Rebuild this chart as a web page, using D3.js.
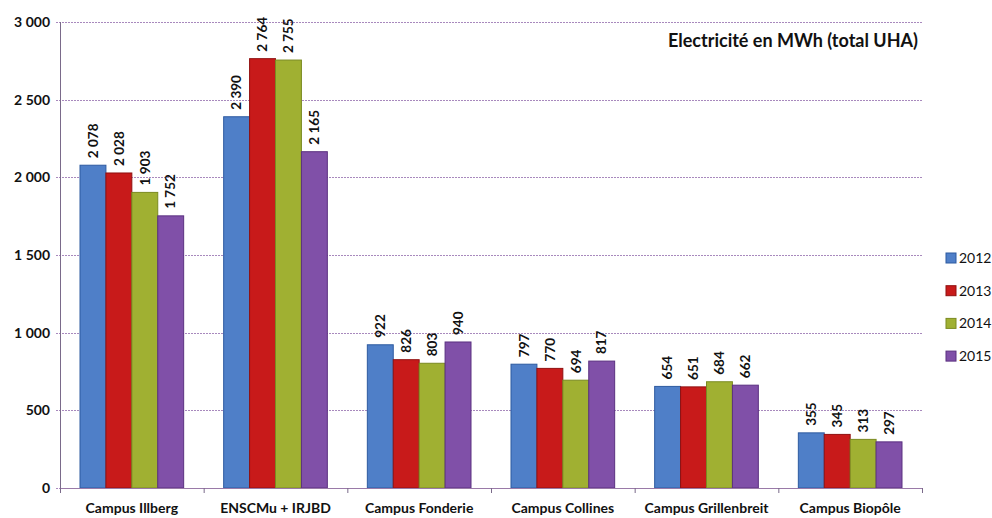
<!DOCTYPE html>
<html lang="fr">
<head>
    <meta charset="UTF-8">
    <title>Electricité en MWh (total UHA)</title>
    <style>
        body { margin: 0; background: #fff; }
        text { font-family: Lato, "Open Sans", sans-serif; fill: #111; }
        .grid line { stroke: #a889bd; stroke-width: 1px; stroke-dasharray: 2, 1; }
        .tick-lbl { font-size: 14px; font-weight: bold; text-anchor: end; }
        .cat-lbl { font-size: 14px; font-weight: bold; text-anchor: middle; }
        .val { font-size: 13.5px; font-weight: bold; }
        .title { font-size: 18px; font-weight: bold; text-anchor: end; }
        .leg { font-size: 14px; }
    </style>
</head>
<body>
    <script src="https://d3js.org/d3.v7.min.js"></script>
    <script>
        // data
        const campuses = ['Campus Illberg', 'ENSCMu + IRJBD', 'Campus Fonderie', 'Campus Collines', 'Campus Grillenbreit', 'Campus Biopôle'];
        const years = ['2012', '2013', '2014', '2015'];
        const v2012 = [2078, 2390, 922, 797, 654, 355];
        const v2013 = [2028, 2764, 826, 770, 651, 345];
        const v2014 = [1903, 2755, 803, 694, 684, 313];
        const v2015 = [1752, 2165, 940, 817, 662, 297];
        const yTicks = [0, 500, 1000, 1500, 2000, 2500, 3000];
        const colors = ['#4f7fc8', '#c81a1a', '#a0b032', '#8050a8'];
        const strokes = ['#2d5aa0', '#901010', '#7a8a20', '#5a3080'];

        const series = [v2012, v2013, v2014, v2015];

        // layout
        let m = { t: 22, b: 30, l: 60, r: 70 };
        let W = 992, H = 518;
        let w = 922 - m.l;
        let h = 488 - m.t;

        let s = d3.select('body').append('svg')
            .attr('width', W)
            .attr('height', H);

        let g = s.append('g').attr('transform', `translate(${m.l},${m.t})`);

        let x0 = d3.scaleBand().domain(campuses).range([0, w]).paddingInner(0).paddingOuter(0);
        let x1 = d3.scaleBand().domain(years).range([20, x0.bandwidth() - 20]).padding(0);
        let y = d3.scaleLinear().domain([0, 3000]).range([h, 0]);

        let fmt = d => d3.format(',')(d).replace(',', '\u202F');

        // grid
        g.append('g').attr('class', 'grid')
            .selectAll('line')
            .data(yTicks)
            .enter().append('line')
            .attr('x1', -4)
            .attr('x2', w)
            .attr('y1', d => Math.round(y(d)) + 0.5)
            .attr('y2', d => Math.round(y(d)) + 0.5);

        g.selectAll('.tick-lbl')
            .data(yTicks)
            .enter().append('text')
            .attr('class', 'tick-lbl')
            .attr('x', -10)
            .attr('y', d => y(d))
            .attr('dy', '0.35em')
            .text(d => fmt(d));

        // bars
        let cg = g.selectAll('.cat')
            .data(campuses)
            .enter().append('g')
            .attr('class', 'cat')
            .attr('transform', c => `translate(${x0(c)},0)`);

        years.forEach((yr, k) => {
            cg.append('rect')
                .attr('x', (c, i) => x1(yr))
                .attr('y', (c, i) => y(series[k][i]))
                .attr('width', x1.bandwidth())
                .attr('height', (c, i) => h - y(series[k][i]))
                .attr('fill', colors[k])
                .attr('stroke', strokes[k])
                .attr('stroke-width', 1);

            cg.append('text')
                .attr('class', 'val')
                .attr('transform', (c, i) => `translate(${x1(yr) + x1.bandwidth() / 2},${y(series[k][i]) - 7}) rotate(-90)`)
                .attr('dy', '0.35em')
                .text((c, i) => fmt(series[k][i]));
        });

        // axes
        g.append('line')
            .attr('x1', 0.5).attr('x2', 0.5)
            .attr('y1', 0).attr('y2', h + 5)
            .attr('stroke', '#7a6a8a');

        g.append('line')
            .attr('x1', 0).attr('x2', w)
            .attr('y1', h + 0.5).attr('y2', h + 0.5)
            .attr('stroke', '#9a7aa8');

        g.selectAll('.xtick')
            .data(d3.range(campuses.length + 1))
            .enter().append('line')
            .attr('x1', i => i * x0.bandwidth() + 0.5)
            .attr('x2', i => i * x0.bandwidth() + 0.5)
            .attr('y1', h)
            .attr('y2', h + 5)
            .attr('stroke', '#7a6a8a');

        g.selectAll('.cat-lbl')
            .data(campuses)
            .enter().append('text')
            .attr('class', 'cat-lbl')
            .attr('x', c => x0(c) + x0.bandwidth() / 2)
            .attr('y', h + 25)
            .text(c => c);

        // title
        s.append('text')
            .attr('class', 'title')
            .attr('x', 918)
            .attr('y', 47)
            .text('Electricité en MWh (total UHA)');

        // legend
        let lg = s.selectAll('.lg')
            .data(years)
            .enter().append('g')
            .attr('transform', (d, i) => `translate(946,${258 + i * 32.7})`);

        lg.append('rect')
            .attr('x', 0).attr('y', -5)
            .attr('width', 10).attr('height', 10)
            .attr('fill', (d, i) => colors[i])
            .attr('stroke', (d, i) => strokes[i]);

        lg.append('text')
            .attr('class', 'leg')
            .attr('x', 13)
            .attr('dy', '0.36em')
            .text(d => d);
    </script>
</body>
</html>
